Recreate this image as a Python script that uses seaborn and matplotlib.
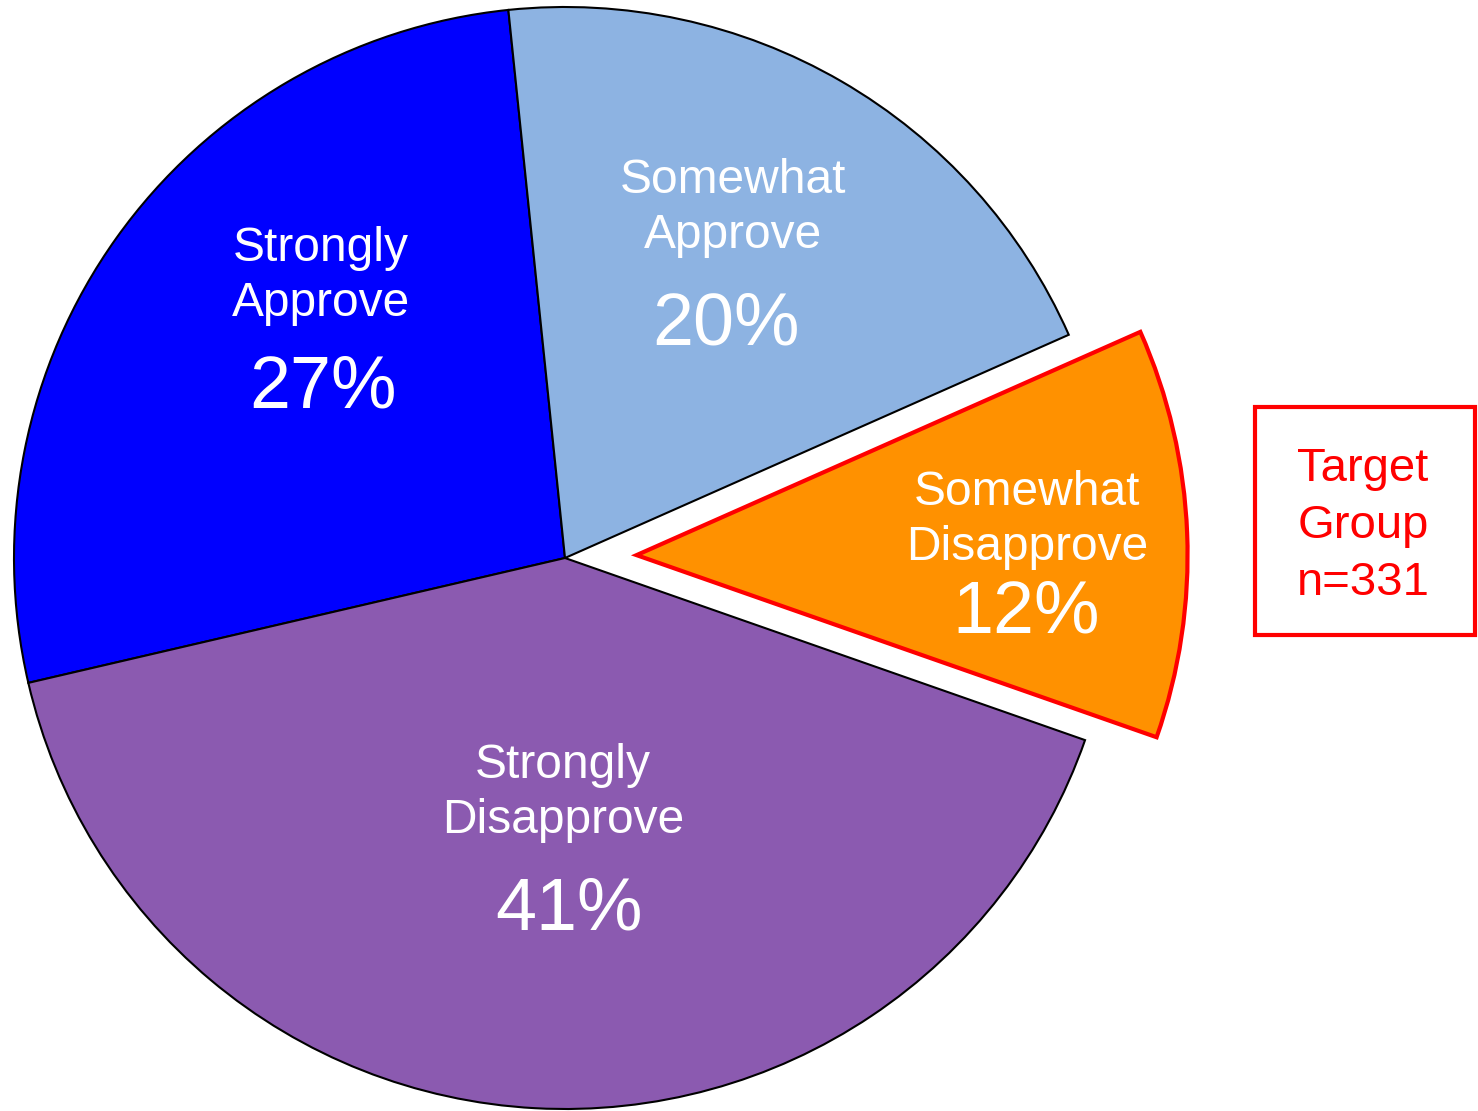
import matplotlib
matplotlib.use("Agg")
import matplotlib.pyplot as plt
import seaborn as sns
from matplotlib.patches import Rectangle

sns.set_theme(style="white")
plt.rcParams['font.family'] = ['Liberation Sans', 'DejaVu Sans']

# ---- data ----
categories = ["Strongly\nApprove", "Somewhat\nApprove", "Somewhat\nDisapprove", "Strongly\nDisapprove"]
values = [27, 20, 12, 41]
colors = ["#0000FF", "#8DB3E2", "#FF9100", "#8B5AB0"]
explode = [0, 0, 0.13, 0]
target_label = "Target\nGroup\nn=331"

W, H = 1478, 1111
fig = plt.figure(figsize=(W / 100, H / 100), dpi=100)
ax = fig.add_axes([0, 0, 1, 1])

wedges, _ = ax.pie(values, colors=colors, explode=explode, startangle=193.1,
                   counterclock=False, radius=1.0,
                   wedgeprops=dict(edgecolor='black', linewidth=1.5))
wedges[2].set_edgecolor('#FF0000')
wedges[2].set_linewidth(3.0)

cx, cy, R = 565, 558, 551  # pie center / radius in pixels
ax.set_aspect('auto')
ax.set_xlim(-cx / R, (W - cx) / R)
ax.set_ylim(-(H - cy) / R, cy / R)
ax.axis('off')

def px(x, y):
    return x / W, 1 - y / H

# label placement (pixel centers of two-line label, pct)
label_pos = [((321, 276), (323, 388)),
             ((733, 208), (726, 325)),
             ((1027, 520), (1026, 613)),
             ((563, 793), (569, 910))]
for cat, v, (lp, pp) in zip(categories, values, label_pos):
    fig.text(*px(*lp), cat, ha='center', va='center', color='white',
             fontsize=34.5, linespacing=1.28, zorder=5)
    fig.text(*px(*pp), f"{v}%", ha='center', va='center', color='white',
             fontsize=53, zorder=5)

# target group box
fig.patches.append(Rectangle(px(1255, 635), (1475 - 1255) / W, (635 - 407) / H,
                             transform=fig.transFigure, fill=False,
                             edgecolor='#FF0000', linewidth=3.0))
fig.text(*px(1363, 526), target_label, ha='center', va='center', color='#FF0000',
         fontsize=34, linespacing=1.37, zorder=5)

fig.savefig("out.png", dpi=100)
